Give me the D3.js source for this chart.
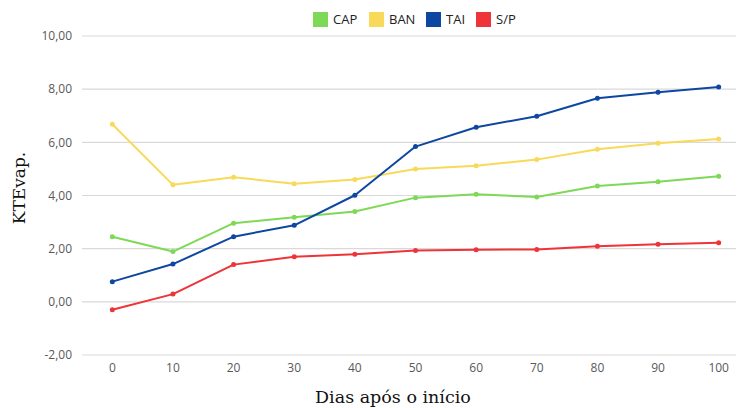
<!DOCTYPE html>
<html><head><meta charset="utf-8">
<script src="https://cdn.jsdelivr.net/npm/d3@7"></script>
<style>
body{margin:0;background:#fff;}
svg{display:block;}
</style></head>
<body>
<svg id="chart" width="738" height="408"></svg>
<script>
const days = ["0","10","20","30","40","50","60","70","80","90","100"];
const seriesNames = ["CAP","BAN","TAI","S/P"];
const capValues = [2.45,1.89,2.96,3.18,3.40,3.92,4.05,3.94,4.36,4.52,4.72];
const banValues = [6.68,4.40,4.69,4.44,4.60,5.00,5.12,5.35,5.74,5.97,6.13];
const taiValues = [0.76,1.42,2.45,2.88,4.01,5.84,6.57,6.98,7.66,7.88,8.08];
const spValues  = [-0.30,0.29,1.40,1.70,1.79,1.93,1.96,1.97,2.09,2.17,2.22];
const yTicks = [-2,0,2,4,6,8,10];
const colors = ["#7ed957","#f9d95a","#0d47a1","#ee3438"];
const seriesValues = [capValues, banValues, taiValues, spValues];

const svg = d3.select("#chart");
const x = d3.scalePoint().domain(days).range([82, 749]).padding(0.5);
const y = d3.scaleLinear().domain([-2, 10]).range([355, 36]);

// gridlines
svg.append("g").selectAll("line").data(yTicks).join("line")
  .attr("x1", 82).attr("x2", 736)
  .attr("y1", d => y(d)).attr("y2", d => y(d))
  .attr("stroke", "#d9d9d9").attr("stroke-width", 1.2);

// y tick labels
const fmt = d => d3.format(".2f")(d).replace(".", ",").replace("−","-");
svg.append("g").selectAll("text").data(yTicks).join("text")
  .attr("x", 72).attr("y", d => y(d)).attr("dy", "0.35em")
  .attr("text-anchor", "end")
  .attr("font-family", "'Open Sans', sans-serif").attr("font-size", 12)
  .attr("fill", "#595959").text(fmt);

// x tick labels
svg.append("g").selectAll("text").data(days).join("text")
  .attr("x", d => x(d)).attr("y", 368).attr("dy", "0.35em")
  .attr("text-anchor", "middle")
  .attr("font-family", "'Open Sans', sans-serif").attr("font-size", 12)
  .attr("fill", "#595959").text(d => d);

// series
const line = d3.line().x((d, i) => x(days[i])).y(d => y(d));
seriesValues.forEach((vals, si) => {
  const g = svg.append("g");
  g.append("path").datum(vals).attr("d", line)
    .attr("fill", "none").attr("stroke", colors[si]).attr("stroke-width", 2)
    .attr("stroke-linejoin", "round");
  g.selectAll("circle").data(vals).join("circle")
    .attr("cx", (d, i) => x(days[i])).attr("cy", d => y(d)).attr("r", 2.5)
    .attr("fill", colors[si]);
});

// legend
const legendX = [313, 369, 426, 476];
const lg = svg.append("g");
seriesNames.forEach((n, i) => {
  lg.append("rect").attr("x", legendX[i]).attr("y", 12).attr("width", 15).attr("height", 15)
    .attr("fill", colors[i]);
  lg.append("text").attr("x", legendX[i] + 20).attr("y", 19.5).attr("dy", "0.35em")
    .attr("font-family", "'Open Sans', sans-serif").attr("font-size", 13)
    .attr("fill", "#222").text(n);
});

// axis titles
svg.append("text").attr("transform", "translate(25,188) rotate(-90)")
  .attr("text-anchor", "middle")
  .attr("font-family", "'DejaVu Serif', 'Liberation Serif', serif").attr("font-size", 17)
  .attr("fill", "#111").text("KTEvap.");
svg.append("text").attr("x", 393).attr("y", 403)
  .attr("text-anchor", "middle")
  .attr("font-family", "'DejaVu Serif', 'Liberation Serif', serif").attr("font-size", 17.5)
  .attr("fill", "#111").text("Dias após o início");
</script>
</body></html>
